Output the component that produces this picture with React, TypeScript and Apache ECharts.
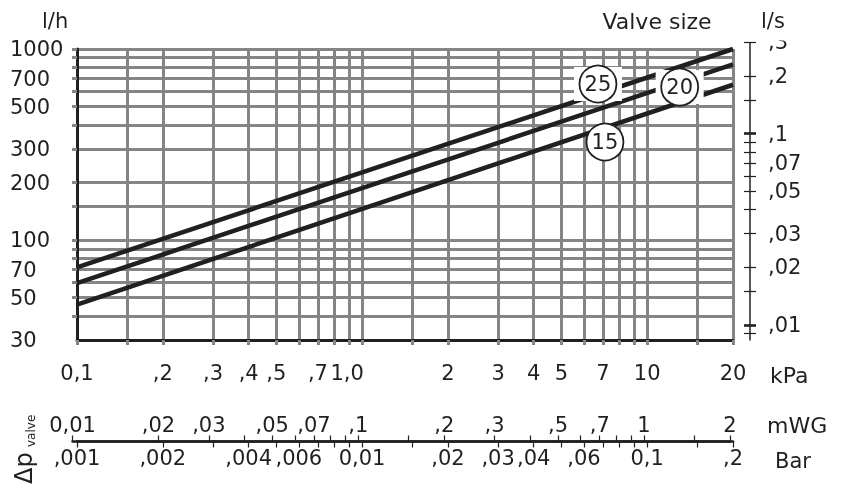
import React, { useEffect, useRef } from "react";
import * as echarts from "echarts";

const INK = "#231f20";
const GRID = "#858585";
const FONT = "DejaVu Sans";
const FS = 21;

// Δp in kPa (main x axis)
const kPaGridValues = [0.1, 0.15, 0.2, 0.3, 0.4, 0.5, 0.6, 0.7, 0.8, 0.9, 1, 1.5, 2, 3, 4, 5, 6, 7, 8, 9, 10, 15, 20];
const kPaLabelValues = [0.1, 0.2, 0.3, 0.4, 0.5, 0.7, 1, 2, 3, 4, 5, 7, 10, 20];
const kPaLabelTexts = ["0,1", ",2", ",3", ",4", ",5", ",7", "{s|1,0}", "2", "3", "4", "5", "7", "10", "20"];

// flow in l/h (left y axis)
const flowGridValues = [40, 50, 60, 70, 80, 90, 100, 150, 200, 300, 400, 500, 600, 700, 800, 900, 1000];
const flowLabelValues = [30, 50, 70, 100, 200, 300, 500, 700, 1000];
const flowLabelTexts = ["30", "50", "70", "100", "200", "300", "500", "700", "1000"];

// flow in l/s (right y axis)
const lpsTickValues = [0.3, 0.2, 0.15, 0.09, 0.08, 0.07, 0.06, 0.05, 0.04, 0.03, 0.02, 0.015, 0.009];
const lpsMajorTickValues = [0.1, 0.01];
const lpsLabelValues = [0.3, 0.2, 0.1, 0.07, 0.05, 0.03, 0.02, 0.01];
const lpsLabelTexts = [",3", ",2", ",1", ",07", ",05", ",03", ",02", ",01"];

// Δp in mWG
const mwgTickValues = [0.01, 0.02, 0.03, 0.04, 0.05, 0.06, 0.07, 0.08, 0.09, 0.1, 0.15, 0.2, 0.3, 0.4, 0.5, 0.6, 0.7, 0.8, 0.9, 1, 1.5, 2];
const mwgLabelValues = [0.01, 0.02, 0.03, 0.05, 0.07, 0.1, 0.2, 0.3, 0.5, 0.7, 1, 2];
const mwgLabelTexts = ["0,01", ",02", ",03", ",05", ",07", ",1", ",2", ",3", ",5", ",7", "1", "2"];

// Δp in Bar
const barTickValues = [0.001, 0.002, 0.003, 0.004, 0.005, 0.006, 0.007, 0.008, 0.009, 0.01, 0.015, 0.02, 0.03, 0.04, 0.05, 0.06, 0.07, 0.08, 0.09, 0.1, 0.15, 0.2];
const barLabelValues = [0.001, 0.002, 0.004, 0.006, 0.01, 0.02, 0.03, 0.04, 0.06, 0.1, 0.2];
const barLabelTexts = [",001", ",002", ",004", ",006", "0,01", ",02", ",03", ",04", ",06", "0,1", ",2"];

// valve curves: [kPa, l/h]
const valve25 = [[0.1, 72], [20, 1000]];
const valve20 = [[0.1, 59.5], [20, 830]];
const valve15 = [[0.1, 46], [20, 650]];

// valve size markers: [kPa, l/h]
const sizeNames = ["25", "20", "15"];
const sizePositions = [[6.72, 656], [13.0, 632], [7.11, 326]];
const haloNames = ["25", "20"];

const fmt = (values: number[], texts: string[]) => (v: number) => {
  const i = values.findIndex((t) => Math.abs(Math.log10(t) - Math.log10(v)) < 1e-6);
  return i >= 0 ? texts[i] : "";
};

const labelStyle = { fontSize: FS, fontFamily: FONT, color: INK };

export default function App() {
  const ref = useRef<HTMLDivElement>(null);
  useEffect(() => {
    if (!ref.current) return;
    const chart = echarts.init(ref.current, undefined, { renderer: "svg" });
    const lineSeries = (data: number[][]) => ({
      type: "line",
      xAxisIndex: 0,
      yAxisIndex: 0,
      data,
      symbol: "none",
      lineStyle: { color: INK, width: 4.5 },
      z: 3,
      silent: true,
    });
    const option: any = {
      animation: false,
      grid: [
        { left: 77, right: 120, top: 49, bottom: 155 },
        { left: 77, right: 120, top: 440.5, height: 1 },
        { left: 72.5, width: 657.5, top: 441.5, height: 1 },
        { left: 750, width: 1, top: 42.4, height: 297.6 },
      ],
      xAxis: [
        {
          gridIndex: 0,
          type: "log",
          min: 0.1,
          max: 20,
          axisLine: { show: true, onZero: false, lineStyle: { color: INK, width: 3 } },
          axisTick: { show: true, customValues: kPaGridValues, length: 5, lineStyle: { color: GRID, width: 3 } },
          splitLine: { show: true, lineStyle: { color: GRID, width: 3 } },
          minorTick: { show: false },
          minorSplitLine: { show: false },
          axisLabel: {
            customValues: kPaLabelValues,
            formatter: fmt(kPaLabelValues, kPaLabelTexts),
            margin: 22,
            ...labelStyle,
            rich: { s: { ...labelStyle, padding: [0, 30, 0, 0] } },
          },
        },
        {
          gridIndex: 1,
          type: "log",
          min: 0.001,
          max: 0.2,
          position: "bottom",
          axisLine: { show: true, onZero: false, lineStyle: { color: INK, width: 2.5 } },
          axisTick: { show: true, customValues: barTickValues, length: 6, lineStyle: { color: INK, width: 1.2 } },
          splitLine: { show: false },
          axisLabel: { customValues: barLabelValues, formatter: fmt(barLabelValues, barLabelTexts), margin: 6, ...labelStyle },
        },
        {
          gridIndex: 2,
          type: "log",
          min: 0.01,
          max: 2,
          position: "top",
          axisLine: { show: true, onZero: false, lineStyle: { color: INK, width: 2.5 } },
          axisTick: { show: true, customValues: mwgTickValues, length: 6, lineStyle: { color: INK, width: 1.2 } },
          splitLine: { show: false },
          axisLabel: { customValues: mwgLabelValues, formatter: fmt(mwgLabelValues, mwgLabelTexts), margin: 6, ...labelStyle },
        },
        { gridIndex: 3, type: "value", show: false, min: 0, max: 1 },
      ],
      yAxis: [
        {
          gridIndex: 0,
          type: "log",
          min: 30,
          max: 1000,
          axisLine: { show: true, onZero: false, lineStyle: { color: INK, width: 3 } },
          axisTick: { show: true, customValues: flowGridValues, length: 5, lineStyle: { color: GRID, width: 3 } },
          splitLine: { show: true, lineStyle: { color: GRID, width: 3 } },
          minorTick: { show: false },
          minorSplitLine: { show: false },
          axisLabel: {
            customValues: flowLabelValues,
            formatter: fmt(flowLabelValues, flowLabelTexts),
            align: "left",
            margin: 67,
            ...labelStyle,
          },
        },
        { gridIndex: 1, type: "value", show: false, min: 0, max: 1 },
        { gridIndex: 2, type: "value", show: false, min: 0, max: 1 },
        {
          gridIndex: 3,
          type: "log",
          min: 30 / 3600,
          max: 0.3,
          position: "left",
          axisLine: { show: true, onZero: false, lineStyle: { color: INK, width: 1.5 } },
          axisTick: { show: true, inside: false, customValues: lpsTickValues, length: 6, lineStyle: { color: INK, width: 1.2 } },
          splitLine: { show: false },
          axisLabel: { show: false },
        },
        {
          gridIndex: 3,
          type: "log",
          min: 30 / 3600,
          max: 0.3,
          position: "left",
          axisLine: { show: false, onZero: false },
          axisTick: { show: true, inside: true, customValues: lpsTickValues, length: 6, lineStyle: { color: INK, width: 1.2 } },
          splitLine: { show: false },
          axisLabel: {
            inside: true,
            customValues: lpsLabelValues,
            formatter: fmt(lpsLabelValues, lpsLabelTexts),
            align: "left",
            margin: 18,
            ...labelStyle,
          },
        },
        {
          gridIndex: 3,
          type: "log",
          min: 30 / 3600,
          max: 0.3,
          position: "left",
          axisLine: { show: false, onZero: false },
          axisTick: { show: true, inside: false, customValues: lpsMajorTickValues, length: 6, lineStyle: { color: INK, width: 2.6 } },
          splitLine: { show: false },
          axisLabel: { show: false },
        },
        {
          gridIndex: 3,
          type: "log",
          min: 30 / 3600,
          max: 0.3,
          position: "left",
          axisLine: { show: false, onZero: false },
          axisTick: { show: true, inside: true, customValues: lpsMajorTickValues, length: 6, lineStyle: { color: INK, width: 2.6 } },
          splitLine: { show: false },
          axisLabel: { show: false },
        },
      ],
      series: [
        lineSeries(valve25),
        lineSeries(valve20),
        lineSeries(valve15),
        {
          type: "scatter",
          xAxisIndex: 0,
          yAxisIndex: 0,
          silent: true,
          z: 4,
          symbol: "rect",
          symbolSize: [48, 34],
          itemStyle: { color: "#ffffff", opacity: 1 },
          data: haloNames.map((n) => ({ name: n, value: sizePositions[sizeNames.indexOf(n)] })),
        },
        {
          type: "scatter",
          xAxisIndex: 0,
          yAxisIndex: 0,
          silent: true,
          z: 5,
          symbol: "circle",
          symbolSize: 37,
          itemStyle: { color: "#ffffff", borderColor: INK, borderWidth: 1.8, opacity: 1 },
          label: { show: true, position: "inside", formatter: "{b}", ...labelStyle },
          data: sizeNames.map((n, i) => ({ name: n, value: sizePositions[i] })),
        },
      ],
      graphic: [
        { type: "text", x: 42, y: 21, style: { text: "l/h", font: `${FS}px '${FONT}'`, fill: INK, textAlign: "left", textVerticalAlign: "middle" } },
        { type: "text", x: 657, y: 21, style: { text: "Valve size", font: `22px '${FONT}'`, fill: INK, textAlign: "center", textVerticalAlign: "middle" } },
        { type: "text", x: 761, y: 21, style: { text: "l/s", font: `${FS}px '${FONT}'`, fill: INK, textAlign: "left", textVerticalAlign: "middle" } },
        { type: "text", x: 770, y: 375, style: { text: "kPa", font: `22px '${FONT}'`, fill: INK, textAlign: "left", textVerticalAlign: "middle" } },
        { type: "text", x: 767, y: 425, style: { text: "mWG", font: `22px '${FONT}'`, fill: INK, textAlign: "left", textVerticalAlign: "middle" } },
        { type: "text", x: 775, y: 461, style: { text: "Bar", font: `${FS}px '${FONT}'`, fill: INK, textAlign: "left", textVerticalAlign: "middle" } },
        { type: "text", x: 24, y: 484, rotation: Math.PI / 2, style: { text: "Δp", font: `24px '${FONT}'`, fill: INK, textAlign: "left", textVerticalAlign: "middle" } },
        { type: "text", x: 31, y: 447, rotation: Math.PI / 2, style: { text: "valve", font: `12px '${FONT}'`, fill: INK, textAlign: "left", textVerticalAlign: "middle" } },
        { type: "rect", z: 100, shape: { x: 762, y: 30, width: 40, height: 10.5 }, style: { fill: "#ffffff" } },
      ],
    };
    chart.setOption(option);
    return () => chart.dispose();
  }, []);
  return <div ref={ref} style={{ position: "fixed", left: 0, top: 0, width: 853, height: 495 }} />;
}
